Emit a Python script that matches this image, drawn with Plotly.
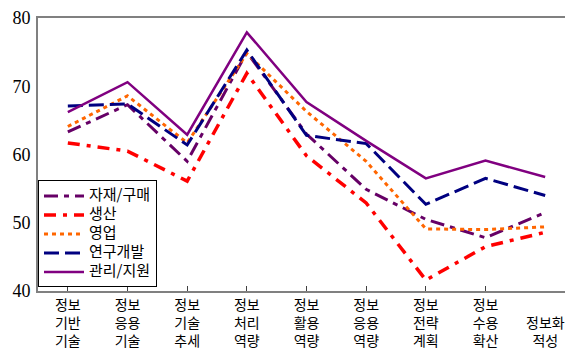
import plotly.graph_objects as go

categories = ["정보<br>기반<br>기술", "정보<br>응용<br>기술", "정보<br>기술<br>추세", "정보<br>처리<br>역량",
              "정보<br>활용<br>역량", "정보<br>응용<br>역량", "정보<br>전략<br>계획", "정보<br>수용<br>확산",
              "정보화<br>적성"]
cat_ids = list(range(len(categories)))

series_names = ["자재/구매", "생산", "영업", "연구개발", "관리/지원"]
v_jajae = [63.3, 67.3, 59.0, 75.0, 63.0, 54.9, 50.5, 47.8, 51.5]
v_saengsan = [61.7, 60.5, 56.1, 71.9, 59.8, 52.9, 41.6, 46.5, 48.6]
v_yeongeop = [64.1, 68.6, 61.7, 74.8, 66.3, 59.0, 49.1, 49.0, 49.4]
v_yeongu = [67.1, 67.4, 61.4, 75.3, 62.8, 61.6, 52.7, 56.5, 54.0]
v_gwanri = [66.2, 70.6, 62.9, 77.9, 67.7, 62.0, 56.5, 59.1, 56.7]

y_ticks = [40, 50, 60, 70, 80]

styles = [
    dict(color="#660066", width=3, dash="14px,6px,5px,6px"),
    dict(color="#ff0000", width=3.5, dash="12px,7px,4px,7px"),
    dict(color="#ff6600", width=3, dash="4px,4px"),
    dict(color="#000080", width=3, dash="15px,6px"),
    dict(color="#800080", width=2.5, dash="solid"),
]
values = [v_jajae, v_saengsan, v_yeongeop, v_yeongu, v_gwanri]

fig = go.Figure()
for name, vals, st in zip(series_names, values, styles):
    fig.add_trace(go.Scatter(x=cat_ids, y=vals, mode="lines",
                             name=f"<span style='font-size:15px'>{name}</span>", line=st))

tick_font = dict(family="Noto Sans CJK KR", size=14, color="black")
fig.update_layout(
    template="none",
    width=573, height=354,
    margin=dict(l=30, r=6, t=10, b=71),
    plot_bgcolor="white", paper_bgcolor="white",
    showlegend=True,
    legend=dict(x=0.0, y=0.405, xanchor="left", yanchor="top",
                bgcolor="white", bordercolor="black", borderwidth=1,
                font=dict(family="Noto Sans CJK KR", size=11, color="black"),
                tracegroupgap=0, itemwidth=40),
    xaxis=dict(tickmode="array", tickvals=cat_ids[:-1], ticktext=categories[:-1],
               range=[-0.5, len(categories) - 0.5], tickfont=tick_font, automargin=False,
               showline=True, mirror=True, linecolor="#808080", linewidth=2,
               ticks="inside", ticklen=5, tickcolor="#404040", showgrid=False, zeroline=False,
               tickson="boundaries"),
    yaxis=dict(range=[40, 80], tickvals=y_ticks, showgrid=False, zeroline=False, automargin=False,
               showline=True, mirror=True, linecolor="#808080", linewidth=2,
               ticklabeloverflow="allow", ticklabelstandoff=2,
               tickfont=dict(family="Liberation Serif", size=18, color="black"), ticks=""),
)
fig.add_annotation(x=cat_ids[-1], y=-0.145, xref="x", yref="paper", text=categories[-1],
                   showarrow=False, yanchor="middle", font=tick_font)
fig.write_html("out.html")
